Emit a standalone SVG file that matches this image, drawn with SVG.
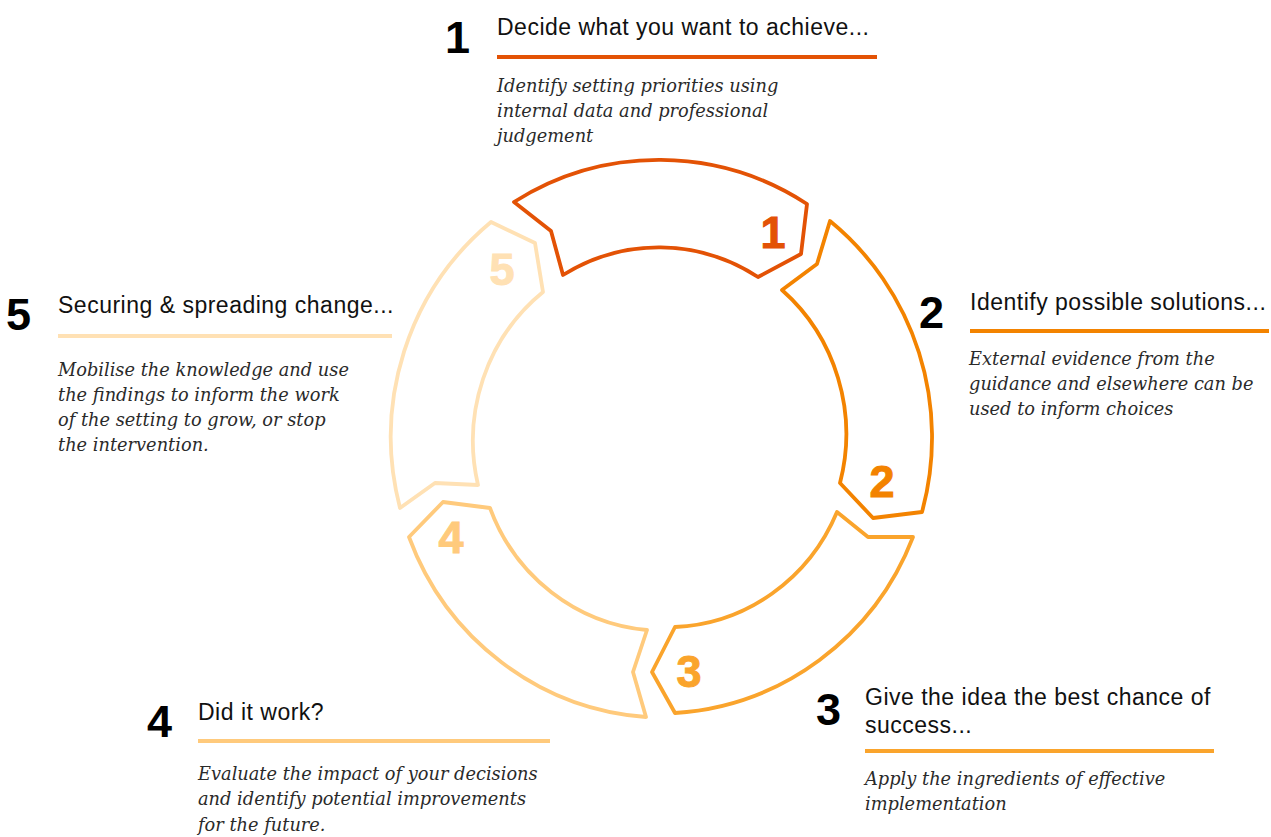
<svg xmlns="http://www.w3.org/2000/svg" width="1271" height="837" viewBox="0 0 1271 837">
<style>
.seg{fill:#fff;stroke-width:3.8;stroke-linejoin:round}
.num{font-family:"Liberation Sans",Arial,sans-serif;font-weight:bold;font-size:45px;text-anchor:middle}
.big{font-family:"Liberation Sans",Arial,sans-serif;font-weight:bold;font-size:45px;fill:#000}
.title{font-family:"Liberation Sans",Arial,sans-serif;font-size:23px;letter-spacing:0.5px;fill:#111}
.body{font-family:"DejaVu Serif",serif;font-style:italic;font-size:17.8px;fill:#2a2a2a}
.c1{stroke:#E35205;fill:#E35205}
.c2{stroke:#F38300;fill:#F38300}
.c3{stroke:#FAA42C;fill:#FAA42C}
.c4{stroke:#FFCA7C;fill:#FFCA7C}
.c5{stroke:#FFE1B4;fill:#FFE1B4}
</style>
<rect width="1271" height="837" fill="#fff"/>
<g id="cycle">
  <g id="seg1">
    <path class="seg c1" style="fill:#fff" d="M514,202 A274,278 0 0 1 807,204 L801,254 L758,277 A185,190 0 0 0 563,275 L551,231 Z"/>
    <text class="num c1" stroke="none" x="773" y="248">1</text>
  </g>
  <g id="seg2">
    <path class="seg c2" style="fill:#fff" d="M830,221 A274,278 0 0 1 922,512 L873,518 L840,483 A185,190 0 0 0 782,290 L817,264 Z"/>
    <text class="num c2" stroke="none" x="882" y="497">2</text>
  </g>
  <g id="seg3">
    <path class="seg c3" style="fill:#fff" d="M913,537 A274,278 0 0 1 675,713 L652,672 L675,627 A185,190 0 0 0 837,512 L868,537 Z"/>
    <text class="num c3" stroke="none" x="689" y="687">3</text>
  </g>
  <g id="seg4">
    <path class="seg c4" style="fill:#fff" d="M646,717 A274,278 0 0 1 409,537 L443,502 L490,508 A185,190 0 0 0 647,630 L633,672 Z"/>
    <text class="num c4" stroke="none" x="451" y="553">4</text>
  </g>
  <g id="seg5">
    <path class="seg c5" style="fill:#fff" d="M400,508 A274,278 0 0 1 491,222 L535,243 L543,292 A185,190 0 0 0 478,485 L435,483 Z"/>
    <text class="num c5" stroke="none" x="502" y="285">5</text>
  </g>
</g>
<g id="label1">
  <text class="big" x="445" y="53">1</text>
  <text class="title" x="497" y="35">Decide what you want to achieve...</text>
  <rect x="497" y="55" width="380" height="4" fill="#E35205"/>
  <text class="body"><tspan x="497" y="92">Identify setting priorities using</tspan><tspan x="497" y="117">internal data and professional</tspan><tspan x="497" y="142">judgement</tspan></text>
</g>
<g id="label2">
  <text class="big" x="919" y="328">2</text>
  <text class="title" x="970" y="310">Identify possible solutions...</text>
  <rect x="970" y="329" width="299" height="4" fill="#F38300"/>
  <text class="body"><tspan x="969" y="365">External evidence from the</tspan><tspan x="969" y="390">guidance and elsewhere can be</tspan><tspan x="969" y="415">used to inform choices</tspan></text>
</g>
<g id="label3">
  <text class="big" x="816" y="725">3</text>
  <text class="title"><tspan x="865" y="705">Give the idea the best chance of</tspan><tspan x="865" y="733">success...</tspan></text>
  <rect x="865" y="749" width="349" height="4" fill="#FAA42C"/>
  <text class="body"><tspan x="865" y="785">Apply the ingredients of effective</tspan><tspan x="865" y="810">implementation</tspan></text>
</g>
<g id="label4">
  <text class="big" x="147" y="737">4</text>
  <text class="title" x="198" y="720">Did it work?</text>
  <rect x="198" y="739" width="352" height="4" fill="#FFCA7C"/>
  <text class="body"><tspan x="198" y="780">Evaluate the impact of your decisions</tspan><tspan x="198" y="805">and identify potential improvements</tspan><tspan x="198" y="831">for the future.</tspan></text>
</g>
<g id="label5">
  <text class="big" x="6" y="330">5</text>
  <text class="title" x="58" y="313">Securing &amp; spreading change...</text>
  <rect x="58" y="334" width="334" height="4" fill="#FFE1B4"/>
  <text class="body"><tspan x="58" y="376">Mobilise the knowledge and use</tspan><tspan x="58" y="401">the findings to inform the work</tspan><tspan x="58" y="426">of the setting to grow, or stop</tspan><tspan x="58" y="451">the intervention.</tspan></text>
</g>
</svg>
